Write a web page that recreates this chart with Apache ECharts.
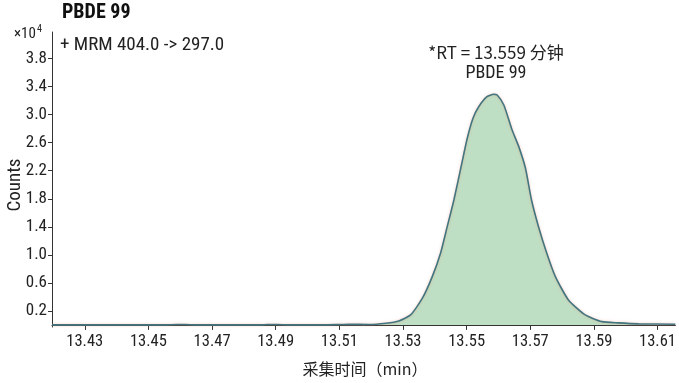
<!DOCTYPE html>
<html>
<head>
<meta charset="utf-8">
<script src="https://cdn.jsdelivr.net/npm/echarts@6/dist/echarts.min.js"></script>
<style>
  html, body { margin: 0; padding: 0; background: #ffffff; }
  #chart { width: 679px; height: 383px; }
</style>
</head>
<body>
<div id="chart"></div>
<script>
// Acquisition time (min) of each sample
const times = [
  13.4197, 13.440, 13.455, 13.459, 13.4615, 13.465, 13.485, 13.4875, 13.4905, 13.494,
  13.505, 13.509, 13.513, 13.5193, 13.5246, 13.5287, 13.5324, 13.5361, 13.5392, 13.5418,
  13.5439, 13.5460, 13.5486, 13.5502, 13.5520, 13.5538, 13.5564, 13.5585, 13.5596,
  13.5617, 13.5643, 13.5664, 13.5685, 13.5704, 13.5726, 13.5752, 13.5779, 13.5820, 13.5873,
  13.5925, 13.5977, 13.6040, 13.6156
];
// Detector counts at each sample
const counts = [
  0, 0, 0, 60, 60, 0, 0, 50, 50, 0,
  0, 40, 100, 60, 240, 570, 1430, 3810, 6890, 10230,
  14020, 17830, 23300, 26630, 29490, 31140, 32570, 32910, 32810,
  31380, 27820, 25440, 22350, 17830, 14020, 10230, 6890, 3570, 1430,
  470, 290, 150, 100
];
const xTicks = [13.43, 13.45, 13.47, 13.49, 13.51, 13.53, 13.55, 13.57, 13.59, 13.61];
const yTicks = [2000, 6000, 10000, 14000, 18000, 22000, 26000, 30000, 34000, 38000];

const FONT = "'Liberation Sans Narrow', 'Roboto Condensed', Roboto, 'Noto Sans CJK SC', sans-serif";
const CJK = "'Liberation Sans Narrow', 'Noto Sans CJK SC', sans-serif";

const chart = echarts.init(document.getElementById('chart'), null, { renderer: 'canvas' });

chart.setOption({
  animation: false,
  backgroundColor: '#ffffff',
  grid: { left: 52, right: 2, top: 32, bottom: 56 },
  xAxis: {
    type: 'value',
    min: 13.4197,
    max: 13.6156,
    axisLine: { show: true, lineStyle: { color: '#333', width: 1 } },
    axisTick: { show: true, length: 5, customValues: xTicks, lineStyle: { color: '#333' } },
    axisLabel: {
      customValues: xTicks,
      margin: 7,
      color: '#222',
      fontSize: 16.5,
      fontFamily: FONT,
      formatter: v => v.toFixed(2)
    },
    splitLine: { show: false }
  },
  yAxis: {
    type: 'value',
    min: -300,
    max: 41800,
    axisLine: { show: true, lineStyle: { color: '#333', width: 1 } },
    axisTick: { show: true, length: 4, customValues: yTicks, lineStyle: { color: '#333' } },
    axisLabel: {
      customValues: yTicks,
      margin: 5,
      color: '#222',
      fontSize: 17,
      fontFamily: FONT,
      formatter: v => (v / 10000).toFixed(1)
    },
    splitLine: { show: false }
  },
  series: [{
    type: 'line',
    data: times.map((t, i) => [t, counts[i]]),
    showSymbol: false,
    smooth: 0.2,
    lineStyle: {
      color: '#437580', width: 1.6,
      shadowColor: 'rgba(235,140,110,0.45)', shadowBlur: 3
    },
    areaStyle: { color: '#bfdfc4', opacity: 1 }
  }],
  graphic: [
    { type: 'text', left: 62, top: 3, style: { text: 'PBDE 99', font: 'bold 20px ' + FONT, fill: '#111' } },
    { type: 'text', left: 14, top: 27, style: { text: '×10', font: '15px ' + FONT, fill: '#222' } },
    { type: 'text', left: 37, top: 25, style: { text: '4', font: '10px ' + FONT, fill: '#222' } },
    { type: 'text', left: 60, top: 36, style: { text: '+ MRM 404.0 -> 297.0', font: '19px ' + FONT, fill: '#222' } },
    { type: 'text', x: 496, y: 53, style: { text: '*RT = 13.559 分钟', font: '17px ' + CJK, fill: '#222', align: 'center', verticalAlign: 'middle' } },
    { type: 'text', x: 496, y: 73, style: { text: 'PBDE 99', font: '18px ' + FONT, fill: '#222', align: 'center', verticalAlign: 'middle' } },
    { type: 'text', x: 15, y: 185, rotation: Math.PI / 2, style: { text: 'Counts', font: '19px ' + FONT, fill: '#222', align: 'center', verticalAlign: 'middle' } },
    { type: 'text', x: 365, y: 369, style: { text: '采集时间（min）', font: '16px ' + CJK, fill: '#222', align: 'center', verticalAlign: 'middle' } }
  ]
});
</script>
</body>
</html>
